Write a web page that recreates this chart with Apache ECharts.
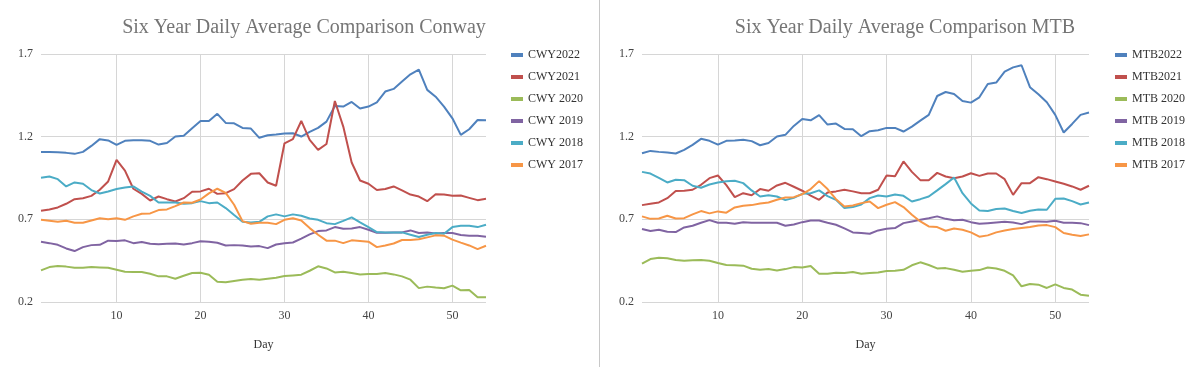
<!DOCTYPE html>
<html>
<head>
<meta charset="utf-8">
<script src="https://cdn.jsdelivr.net/npm/echarts@6/dist/echarts.min.js"></script>
<style>
  html, body { margin: 0; padding: 0; background: #fff; }
  #chart { width: 1200px; height: 367px; }
</style>
</head>
<body>
<div id="chart"></div>
<script>
const days = [1,2,3,4,5,6,7,8,9,10,11,12,13,14,15,16,17,18,19,20,21,22,23,24,25,26,27,28,29,30,31,32,33,34,35,36,37,38,39,40,41,42,43,44,45,46,47,48,49,50,51,52,53,54];
const xTickLabels = [10, 20, 30, 40, 50];
const yTickLabels = [0.2, 0.7, 1.2, 1.7];

const leftTitle = 'Six Year Daily Average Comparison Conway';
const rightTitle = 'Six Year Daily Average Comparison MTB';
const leftNames = ['CWY2022', 'CWY2021', 'CWY 2020', 'CWY 2019', 'CWY 2018', 'CWY 2017'];
const rightNames = ['MTB2022', 'MTB2021', 'MTB 2020', 'MTB 2019', 'MTB 2018', 'MTB 2017'];

const CWY2022 = [1.108,1.108,1.106,1.102,1.096,1.108,1.144,1.185,1.177,1.150,1.175,1.179,1.179,1.175,1.152,1.162,1.201,1.205,1.251,1.295,1.295,1.338,1.283,1.281,1.253,1.249,1.193,1.209,1.213,1.219,1.221,1.201,1.229,1.253,1.291,1.386,1.382,1.410,1.370,1.382,1.408,1.473,1.489,1.533,1.577,1.605,1.483,1.442,1.382,1.311,1.211,1.245,1.301,1.299];
const CWY2021 = [0.752,0.760,0.772,0.794,0.822,0.828,0.842,0.879,0.929,1.060,0.995,0.885,0.854,0.814,0.838,0.822,0.808,0.828,0.867,0.869,0.885,0.854,0.858,0.883,0.935,0.975,0.979,0.923,0.903,1.160,1.185,1.295,1.181,1.120,1.156,1.416,1.261,1.044,0.935,0.915,0.877,0.883,0.899,0.875,0.850,0.838,0.810,0.852,0.850,0.842,0.844,0.830,0.816,0.824];
const CWY2020 = [0.391,0.411,0.418,0.414,0.407,0.407,0.411,0.409,0.407,0.395,0.383,0.381,0.381,0.371,0.355,0.355,0.341,0.359,0.375,0.377,0.365,0.323,0.319,0.327,0.335,0.339,0.335,0.341,0.347,0.357,0.361,0.365,0.389,0.416,0.403,0.379,0.383,0.375,0.367,0.369,0.369,0.375,0.367,0.355,0.335,0.284,0.293,0.287,0.283,0.299,0.271,0.273,0.228,0.228];
const CWY2019 = [0.565,0.556,0.546,0.524,0.508,0.532,0.544,0.546,0.571,0.569,0.573,0.556,0.563,0.552,0.550,0.552,0.554,0.548,0.556,0.567,0.565,0.558,0.542,0.544,0.542,0.536,0.538,0.526,0.548,0.556,0.560,0.583,0.609,0.629,0.633,0.653,0.643,0.645,0.653,0.637,0.619,0.619,0.621,0.621,0.633,0.617,0.621,0.615,0.617,0.617,0.605,0.601,0.601,0.595];
const CWY2018 = [0.951,0.959,0.943,0.899,0.923,0.915,0.877,0.856,0.868,0.883,0.893,0.899,0.868,0.842,0.802,0.802,0.802,0.794,0.798,0.810,0.798,0.802,0.768,0.726,0.685,0.681,0.685,0.718,0.730,0.718,0.730,0.722,0.705,0.697,0.677,0.671,0.691,0.712,0.681,0.653,0.623,0.621,0.621,0.621,0.607,0.593,0.607,0.617,0.613,0.653,0.661,0.661,0.653,0.667];
const CWY2017 = [0.697,0.691,0.685,0.691,0.679,0.679,0.693,0.707,0.701,0.707,0.697,0.718,0.734,0.736,0.756,0.760,0.780,0.802,0.800,0.820,0.857,0.885,0.860,0.788,0.689,0.673,0.679,0.679,0.671,0.697,0.707,0.693,0.647,0.607,0.571,0.571,0.556,0.573,0.569,0.565,0.532,0.542,0.554,0.575,0.575,0.579,0.591,0.603,0.601,0.577,0.559,0.542,0.520,0.540];

const MTB2022 = [1.100,1.114,1.108,1.104,1.098,1.120,1.150,1.187,1.175,1.152,1.175,1.177,1.181,1.173,1.148,1.162,1.201,1.211,1.265,1.307,1.299,1.330,1.273,1.279,1.247,1.245,1.203,1.233,1.239,1.253,1.253,1.231,1.261,1.297,1.332,1.446,1.470,1.458,1.416,1.406,1.438,1.519,1.527,1.593,1.619,1.632,1.499,1.456,1.408,1.332,1.225,1.277,1.332,1.346];
const MTB2021 = [0.786,0.794,0.802,0.828,0.871,0.873,0.879,0.909,0.949,0.965,0.907,0.834,0.858,0.846,0.883,0.873,0.905,0.921,0.897,0.873,0.844,0.818,0.862,0.869,0.879,0.869,0.858,0.858,0.879,0.965,0.961,1.050,0.987,0.937,0.937,0.981,0.959,0.949,0.959,0.979,0.963,0.977,0.977,0.943,0.848,0.919,0.919,0.955,0.943,0.929,0.915,0.899,0.879,0.903];
const MTB2020 = [0.432,0.460,0.468,0.464,0.454,0.450,0.452,0.454,0.450,0.436,0.424,0.422,0.420,0.401,0.395,0.399,0.391,0.399,0.411,0.409,0.418,0.371,0.371,0.377,0.375,0.381,0.371,0.375,0.379,0.387,0.389,0.395,0.422,0.440,0.424,0.403,0.405,0.395,0.383,0.389,0.393,0.409,0.403,0.389,0.361,0.295,0.309,0.305,0.285,0.307,0.285,0.275,0.244,0.238];
const MTB2019 = [0.641,0.629,0.637,0.625,0.623,0.651,0.661,0.679,0.695,0.679,0.679,0.673,0.683,0.679,0.679,0.679,0.679,0.661,0.669,0.683,0.693,0.693,0.679,0.667,0.645,0.621,0.617,0.613,0.633,0.643,0.647,0.677,0.687,0.697,0.707,0.718,0.703,0.695,0.697,0.683,0.673,0.677,0.681,0.685,0.681,0.671,0.687,0.687,0.685,0.691,0.679,0.679,0.677,0.665];
const MTB2018 = [0.987,0.977,0.951,0.923,0.939,0.937,0.903,0.891,0.911,0.923,0.931,0.933,0.919,0.875,0.838,0.846,0.838,0.816,0.830,0.854,0.858,0.875,0.840,0.818,0.768,0.774,0.790,0.828,0.844,0.838,0.850,0.842,0.808,0.822,0.838,0.875,0.913,0.953,0.858,0.796,0.754,0.751,0.762,0.766,0.750,0.738,0.752,0.760,0.758,0.824,0.826,0.810,0.790,0.802];
const MTB2017 = [0.718,0.703,0.705,0.722,0.705,0.707,0.730,0.750,0.736,0.748,0.740,0.772,0.782,0.786,0.796,0.802,0.818,0.832,0.834,0.852,0.883,0.931,0.883,0.822,0.778,0.784,0.798,0.808,0.768,0.788,0.804,0.774,0.728,0.687,0.657,0.653,0.631,0.645,0.637,0.621,0.595,0.603,0.621,0.633,0.641,0.647,0.653,0.663,0.665,0.653,0.617,0.607,0.599,0.609];

const colors = ['#4F81BD', '#C0504D', '#9BBB59', '#8064A2', '#4BACC6', '#F79646'];
const leftData = [CWY2022, CWY2021, CWY2020, CWY2019, CWY2018, CWY2017];
const rightData = [MTB2022, MTB2021, MTB2020, MTB2019, MTB2018, MTB2017];

const FONT = '"Liberation Serif", "DejaVu Serif", serif';
const isXTick = (i, v) => xTickLabels.indexOf(Number(v)) >= 0;

function xAxis(gridIndex) {
  return {
    type: 'category', gridIndex, data: days, boundaryGap: false,
    name: 'Day', nameLocation: 'middle', nameGap: 37,
    nameTextStyle: { fontFamily: FONT, fontSize: 12, color: '#333' },
    axisLine: { show: false }, axisTick: { show: false },
    axisLabel: { interval: isXTick, fontFamily: FONT, fontSize: 12, color: '#444', margin: 8 },
    splitLine: { show: true, interval: isXTick, lineStyle: { color: '#d6d6d6', width: 1 } }
  };
}
function yAxis(gridIndex) {
  return {
    type: 'value', gridIndex,
    min: yTickLabels[0], max: yTickLabels[yTickLabels.length - 1],
    interval: yTickLabels[1] - yTickLabels[0],
    axisLine: { show: false }, axisTick: { show: false },
    axisLabel: { fontFamily: FONT, fontSize: 12, color: '#444', margin: 8,
      formatter: v => Number(v).toFixed(1) },
    splitLine: { show: true, lineStyle: { color: '#d6d6d6', width: 1 } }
  };
}
function seriesFor(names, data, idx) {
  return names.map((n, k) => ({
    name: n, type: 'line', xAxisIndex: idx, yAxisIndex: idx,
    data: data[k], showSymbol: false, symbol: 'none',
    lineStyle: { width: 2, color: colors[k] }, itemStyle: { color: colors[k] },
    animation: false
  }));
}
function legend(names, left) {
  return {
    orient: 'vertical', left, top: 44, data: names,
    icon: 'rect', itemWidth: 12, itemHeight: 4, itemGap: 10,
    textStyle: { fontFamily: FONT, fontSize: 12, color: '#333', lineHeight: 12 },
    selectedMode: false
  };
}

const chart = echarts.init(document.getElementById('chart'), null, { renderer: 'canvas' });
chart.setOption({
  animation: false,
  color: colors,
  title: [
    { text: leftTitle, left: 299, top: 13, textAlign: 'center',
      textStyle: { fontFamily: FONT, fontSize: 20, fontWeight: 'normal', color: '#757575' } },
    { text: rightTitle, left: 900, top: 13, textAlign: 'center',
      textStyle: { fontFamily: FONT, fontSize: 20, fontWeight: 'normal', color: '#757575' } }
  ],
  legend: [legend(leftNames, 506), legend(rightNames, 1110)],
  grid: [
    { left: 41, width: 445, top: 54, height: 248, containLabel: false },
    { left: 642, width: 447, top: 54, height: 248, containLabel: false }
  ],
  xAxis: [xAxis(0), xAxis(1)],
  yAxis: [yAxis(0), yAxis(1)],
  series: seriesFor(leftNames, leftData, 0).concat(seriesFor(rightNames, rightData, 1)),
  graphic: [
    { type: 'line', shape: { x1: 599.5, y1: 0, x2: 599.5, y2: 367 },
      style: { stroke: '#c8c8c8', lineWidth: 1 } }
  ]
});
</script>
</body>
</html>
